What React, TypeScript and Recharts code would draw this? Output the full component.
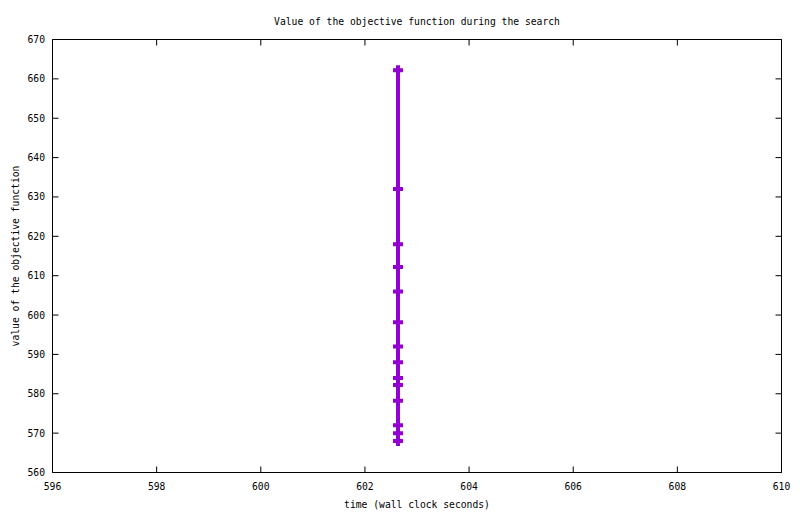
import React from 'react';
import { LineChart, Line, XAxis, YAxis } from 'recharts';

const PURPLE = '#9400d3';
const FONT = '"DejaVu Sans Mono", monospace';
const FONT_SIZE = 9.7;
const TICK_LEN = 6;

// wall clock time of each improvement (all at nearly the same moment)
const times = [
  602.635, 602.635, 602.635, 602.635, 602.635, 602.635, 602.635,
  602.635, 602.635, 602.635, 602.635, 602.635, 602.635, 602.635,
];
// objective value found at each step
const values = [662.2, 632, 618, 612.2, 606, 598.2, 592, 588, 584, 582.2, 578.2, 572, 570, 568];

const xTicks = [596, 598, 600, 602, 604, 606, 608, 610];
const yTicks = [560, 570, 580, 590, 600, 610, 620, 630, 640, 650, 660, 670];

const data = values.map((v, i) => ({ time: times[i], value: v }));

function PlusDot(props: any) {
  const { cx, cy } = props;
  if (cx == null || cy == null) return null;
  return (
    <g>
      <line x1={cx - 5} x2={cx + 5} y1={cy} y2={cy} stroke={PURPLE} strokeWidth={4} />
      <line x1={cx} x2={cx} y1={cy - 5} y2={cy + 5} stroke={PURPLE} strokeWidth={4} />
    </g>
  );
}

// gnuplot style ticks: pointing into the plot, labels outside
function BottomTick(props: any) {
  const { x, y, payload } = props;
  return (
    <g>
      <line x1={x} x2={x} y1={y} y2={y - TICK_LEN} stroke="#000" />
      <text x={x} y={y + 17.5} textAnchor="middle" fontFamily={FONT} fontSize={FONT_SIZE} fill="#000">
        {payload.value}
      </text>
    </g>
  );
}

function LeftTick(props: any) {
  const { x, y, payload } = props;
  return (
    <g>
      <line x1={x} x2={x + TICK_LEN} y1={y} y2={y} stroke="#000" />
      <text x={x - 7.5} y={y + 3.5} textAnchor="end" fontFamily={FONT} fontSize={FONT_SIZE} fill="#000">
        {payload.value}
      </text>
    </g>
  );
}

function TopTick(props: any) {
  const { x, y } = props;
  return <line x1={x} x2={x} y1={y} y2={y + TICK_LEN} stroke="#000" />;
}

function RightTick(props: any) {
  const { x, y } = props;
  return <line x1={x} x2={x - TICK_LEN} y1={y} y2={y} stroke="#000" />;
}

const labelFont = { fontFamily: FONT, fontSize: FONT_SIZE, fill: '#000' };

export default function App() {
  return (
    <div style={{ position: 'absolute', left: 0, top: 0, width: 800, height: 514, background: '#fff' }}>
      <LineChart
        width={800}
        height={514}
        data={data}
        margin={{ top: 38.5, right: 17.5, bottom: 0, left: 0.5 }}
      >
        <XAxis
          dataKey="time"
          type="number"
          domain={[596, 610]}
          ticks={xTicks}
          interval={0}
          allowDataOverflow
          height={41.5}
          stroke="#000"
          tickLine={false}
          tickSize={0}
          tickMargin={0}
          tick={<BottomTick />}
          label={{ value: 'time (wall clock seconds)', position: 'insideBottom', offset: 6, ...labelFont }}
        />
        <XAxis
          xAxisId="top"
          dataKey="time"
          orientation="top"
          type="number"
          domain={[596, 610]}
          ticks={xTicks}
          interval={0}
          allowDataOverflow
          height={1}
          stroke="#000"
          tickLine={false}
          tickSize={0}
          tickMargin={0}
          tick={<TopTick />}
          label={{
            value: 'Value of the objective function during the search',
            position: 'top',
            offset: 14,
            ...labelFont,
          }}
        />
        <YAxis
          type="number"
          domain={[560, 670]}
          ticks={yTicks}
          interval={0}
          allowDataOverflow
          width={52}
          stroke="#000"
          tickLine={false}
          tickSize={0}
          tickMargin={0}
          tick={<LeftTick />}
          label={{
            value: 'value of the objective function',
            angle: -90,
            position: 'insideLeft',
            offset: 15,
            style: { textAnchor: 'middle' },
            ...labelFont,
          }}
        />
        <YAxis
          yAxisId="right"
          orientation="right"
          type="number"
          domain={[560, 670]}
          ticks={yTicks}
          interval={0}
          allowDataOverflow
          width={1}
          stroke="#000"
          tickLine={false}
          tickSize={0}
          tickMargin={0}
          tick={<RightTick />}
        />
        {/* invisible copy so the mirrored frame axes get drawn */}
        <Line
          xAxisId="top"
          yAxisId="right"
          type="linear"
          dataKey="value"
          stroke="none"
          dot={false}
          activeDot={false}
          legendType="none"
          isAnimationActive={false}
        />
        <Line
          type="linear"
          dataKey="value"
          stroke={PURPLE}
          strokeWidth={4}
          dot={<PlusDot />}
          activeDot={false}
          isAnimationActive={false}
        />
      </LineChart>
    </div>
  );
}
